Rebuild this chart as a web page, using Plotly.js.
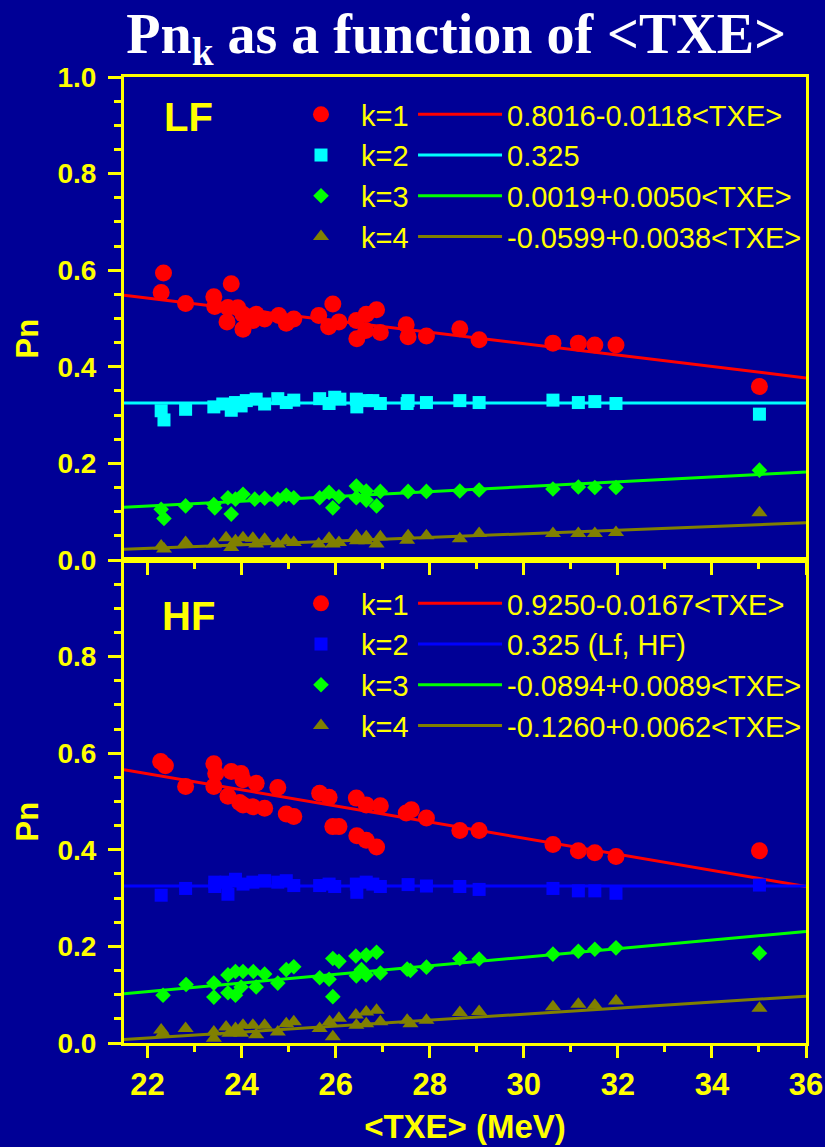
<!DOCTYPE html>
<html>
<head>
<meta charset="utf-8">
<script src="https://cdn.plot.ly/plotly-3.0.1.min.js"></script>
<style>html,body{margin:0;padding:0;background:#000096;}#chart{width:825px;height:1147px;}</style>
</head>
<body>
<div id="chart"></div>
<script>
// ---------- LF panel data ----------
const lfK1x = [22.29,22.34,22.81,23.41,23.43,23.69,23.71,23.78,23.92,24.03,24.03,24.24,24.31,24.49,24.79,24.95,25.11,25.64,25.85,25.94,26.07,26.44,26.45,26.64,26.65,26.87,26.95,27.50,27.54,27.93,28.64,29.05,30.62,31.16,31.51,31.96,35.01];
const lfK1y = [0.554,0.594,0.531,0.545,0.525,0.493,0.523,0.572,0.522,0.509,0.478,0.496,0.509,0.499,0.506,0.490,0.499,0.506,0.483,0.530,0.493,0.496,0.458,0.475,0.509,0.518,0.471,0.487,0.462,0.464,0.479,0.456,0.449,0.449,0.445,0.445,0.359];

const lfK2x = [22.29,22.35,22.81,23.41,23.60,23.78,23.87,23.99,24.10,24.31,24.49,24.77,24.95,25.11,25.66,25.86,25.98,26.09,26.44,26.45,26.65,26.79,26.95,27.52,27.54,27.93,28.64,29.05,30.62,31.16,31.51,31.96,35.01];
const lfK2y = [0.309,0.290,0.312,0.317,0.323,0.310,0.326,0.319,0.330,0.333,0.323,0.334,0.326,0.331,0.334,0.324,0.337,0.333,0.333,0.317,0.330,0.330,0.324,0.324,0.330,0.326,0.330,0.326,0.331,0.326,0.328,0.324,0.302];

const lfK3x = [22.29,22.35,22.81,23.41,23.43,23.71,23.78,23.87,24.03,24.28,24.49,24.77,24.95,25.11,25.66,25.86,25.94,26.07,26.44,26.44,26.65,26.65,26.87,26.95,27.54,27.93,28.64,29.05,30.62,31.16,31.51,31.96,35.01];
const lfK3y = [0.105,0.086,0.112,0.115,0.108,0.129,0.095,0.126,0.136,0.126,0.128,0.126,0.134,0.129,0.129,0.140,0.108,0.131,0.153,0.129,0.143,0.124,0.112,0.142,0.142,0.142,0.143,0.145,0.147,0.151,0.150,0.150,0.186];

const lfK4x = [22.29,22.35,22.81,23.41,23.67,23.78,23.87,24.03,24.24,24.31,24.49,24.77,24.95,25.11,25.64,25.86,25.94,26.07,26.44,26.45,26.65,26.65,26.87,26.95,27.52,27.54,27.93,28.64,29.05,30.62,31.16,31.51,31.96,35.01];
const lfK4y = [0.029,0.023,0.036,0.033,0.046,0.026,0.040,0.046,0.045,0.033,0.043,0.033,0.041,0.036,0.033,0.045,0.033,0.036,0.050,0.040,0.048,0.040,0.033,0.048,0.041,0.050,0.050,0.044,0.055,0.055,0.055,0.055,0.057,0.098];

// ---------- HF panel data ----------
const hfK1x = [22.28,22.38,22.81,23.41,23.45,23.41,23.78,23.99,24.03,23.71,23.96,24.03,24.24,24.49,24.31,24.77,24.95,25.11,25.66,25.86,25.94,26.07,26.44,26.45,26.65,26.65,26.87,26.95,27.50,27.61,27.93,28.64,29.05,30.62,31.16,31.51,31.96,35.01];
const hfK1y = [0.583,0.574,0.531,0.578,0.558,0.531,0.562,0.558,0.545,0.511,0.498,0.493,0.489,0.486,0.538,0.529,0.474,0.469,0.517,0.509,0.448,0.448,0.507,0.429,0.493,0.420,0.406,0.491,0.476,0.483,0.466,0.440,0.440,0.411,0.398,0.394,0.386,0.398];

const hfK2x = [22.29,22.81,23.43,23.43,23.71,23.67,23.87,24.03,24.24,24.49,24.77,24.95,25.11,25.66,25.86,25.98,26.44,26.45,26.65,26.79,26.95,27.54,27.93,28.64,29.05,30.62,31.16,31.51,31.96,35.01];
const hfK2y = [0.306,0.320,0.324,0.333,0.308,0.333,0.339,0.329,0.333,0.336,0.333,0.336,0.326,0.326,0.329,0.324,0.329,0.312,0.333,0.329,0.324,0.328,0.325,0.324,0.318,0.320,0.315,0.315,0.310,0.327];

const hfK3x = [22.33,22.82,23.41,23.41,23.71,23.71,23.87,23.87,24.03,23.99,24.25,24.31,24.49,24.77,24.95,25.11,25.66,25.86,25.94,26.07,25.94,26.43,26.65,26.87,26.44,26.55,26.65,26.95,27.52,27.59,27.93,28.64,29.05,30.62,31.16,31.51,31.96,35.01];
const hfK3y = [0.099,0.121,0.124,0.095,0.141,0.104,0.148,0.099,0.148,0.116,0.148,0.116,0.143,0.124,0.152,0.158,0.135,0.132,0.175,0.169,0.096,0.180,0.182,0.188,0.139,0.152,0.141,0.145,0.153,0.150,0.157,0.175,0.174,0.184,0.190,0.194,0.197,0.186];

const hfK4x = [22.33,22.29,22.81,23.41,23.41,23.67,23.74,23.87,24.03,23.99,24.24,24.31,24.49,24.77,24.95,25.11,25.66,25.87,25.94,26.07,26.43,26.44,26.65,26.65,26.87,26.95,27.52,27.59,27.93,28.64,29.05,30.62,31.16,31.51,31.96,35.01];
const hfK4y = [0.020,0.027,0.030,0.023,0.010,0.033,0.020,0.030,0.037,0.020,0.037,0.017,0.037,0.023,0.040,0.044,0.030,0.044,0.013,0.051,0.058,0.037,0.064,0.040,0.068,0.044,0.047,0.040,0.047,0.063,0.065,0.075,0.080,0.078,0.087,0.072];

// ---------- fit lines (end points over the axis range) ----------
const fitX = [21.5, 36];
const lfFit1 = [0.548, 0.377];
const lfFit2 = [0.325, 0.325];
const lfFit3 = [0.109, 0.182];
const lfFit4 = [0.022, 0.077];
const hfFit1 = [0.566, 0.324];
const hfFit2 = [0.325, 0.325];
const hfFit3 = [0.102, 0.231];
const hfFit4 = [0.007, 0.097];

const kLabels = ['k=1', 'k=2', 'k=3', 'k=4'];
const lfEquations = ['0.8016-0.0118&lt;TXE&gt;', '0.325', '0.0019+0.0050&lt;TXE&gt;', '-0.0599+0.0038&lt;TXE&gt;'];
const hfEquations = ['0.9250-0.0167&lt;TXE&gt;', '0.325 (Lf, HF)', '-0.0894+0.0089&lt;TXE&gt;', '-0.1260+0.0062&lt;TXE&gt;'];
const yTicksTop = [0, 0.2, 0.4, 0.6, 0.8, 1.0];
const yTicksBottom = [0, 0.2, 0.4, 0.6, 0.8];
const xTicks = [22, 24, 26, 28, 30, 32, 34, 36];

// ---------- styling ----------
const BG = '#000096';
const YEL = '#FFFF00';
const SANS = 'Liberation Sans, Arial, sans-serif';
const lfColors = ['#FF0000', '#00FFFF', '#00FF00', '#808000'];
const hfColors = ['#FF0000', '#0000FF', '#00FF00', '#808000'];
const symbols = ['circle', 'square', 'diamond', 'triangle-up'];
const msizes = [17, 13, 12, 14];

const lfPts = [[lfK1x, lfK1y], [lfK2x, lfK2y], [lfK3x, lfK3y], [lfK4x, lfK4y]];
const hfPts = [[hfK1x, hfK1y], [hfK2x, hfK2y], [hfK3x, hfK3y], [hfK4x, hfK4y]];
const lfFits = [lfFit1, lfFit2, lfFit3, lfFit4];
const hfFits = [hfFit1, hfFit2, hfFit3, hfFit4];

const traces = [];
function addPanel(pts, fits, colors, eqs, xa, ya, legM, legL) {
  for (let i = 0; i < 4; i++) {
    traces.push({
      type: 'scatter', mode: 'lines', x: fitX, y: fits[i], xaxis: xa, yaxis: ya,
      line: {color: colors[i], width: 3}, name: eqs[i], legend: legL, hoverinfo: 'skip'
    });
  }
  for (let i = 0; i < 4; i++) {
    traces.push({
      type: 'scatter', mode: 'markers', x: pts[i][0], y: pts[i][1], xaxis: xa, yaxis: ya,
      marker: {symbol: symbols[i], size: msizes[i], color: colors[i], line: {width: 0}},
      name: kLabels[i], legend: legM
    });
  }
}
addPanel(lfPts, lfFits, lfColors, lfEquations, 'x', 'y', 'legend', 'legend2');
addPanel(hfPts, hfFits, hfColors, hfEquations, 'x2', 'y2', 'legend3', 'legend4');

const tickFont = {family: SANS, size: 28, color: YEL, weight: 'bold'};
function yAxis(domain, anchor, ticks) {
  return {
    domain: domain, anchor: anchor, range: [0, 1], tickvals: ticks, tickformat: '.1f',
    ticks: 'outside', ticklen: 13, tickwidth: 3, tickcolor: YEL,
    showline: true, linecolor: YEL, linewidth: 3, mirror: true,
    showgrid: false, zeroline: false, tickfont: tickFont, ticklabelstandoff: 6,
    minor: {dtick: 0.05, ticks: 'outside', ticklen: 7, tickwidth: 3, tickcolor: YEL, showgrid: false}
  };
}
function yMirror(over, anchor) {
  return {
    overlaying: over, anchor: anchor, side: 'right', range: [0, 1], tickvals: yTicksTop,
    ticks: 'inside', ticklen: 10, tickwidth: 3, tickcolor: YEL, showticklabels: false,
    showline: false, showgrid: false, zeroline: false,
    minor: {dtick: 0.05, ticks: 'inside', ticklen: 7, tickwidth: 3, tickcolor: YEL, showgrid: false}
  };
}
function xAxis(anchor, labels) {
  return {
    anchor: anchor, range: [21.5, 36], tickvals: xTicks, ticks: 'outside', ticklen: 12,
    tickwidth: 3, tickcolor: YEL, showline: true, linecolor: YEL, linewidth: 3, mirror: true,
    showgrid: false, zeroline: false, showticklabels: labels,
    tickfont: {family: SANS, size: 31, color: YEL, weight: 'bold'},
    minor: {dtick: 1, ticks: 'outside', ticklen: 6, tickwidth: 3, tickcolor: YEL, showgrid: false}
  };
}
function xMirror(over, anchor) {
  return {
    overlaying: over, anchor: anchor, side: 'top', range: [21.5, 36], tickvals: xTicks,
    ticks: 'inside', ticklen: 10, tickwidth: 3, tickcolor: YEL, showticklabels: false,
    showline: false, showgrid: false, zeroline: false,
    minor: {dtick: 1, ticks: 'inside', ticklen: 6, tickwidth: 3, tickcolor: YEL, showgrid: false}
  };
}

const legFont = {family: SANS, size: 29, color: YEL};
function leg(x, y, iw) {
  return {x: x, y: y, xanchor: 'left', yanchor: 'top', bgcolor: 'rgba(0,0,0,0)',
          borderwidth: 0, font: legFont, itemwidth: iw, tracegroupgap: 0, traceorder: 'normal'};
}

const xb = xAxis('y2', true);
xb.title = {text: '&lt;TXE&gt; (MeV)', font: {family: SANS, size: 33, color: YEL, weight: 'bold'}, standoff: 14};

const layout = {
  width: 825, height: 1147,
  paper_bgcolor: BG, plot_bgcolor: BG,
  margin: {l: 124, r: 19, t: 77, b: 104},
  showlegend: true,
  title: {
    text: 'Pn<sub>k</sub> as a function of &lt;TXE&gt;',
    font: {family: 'Liberation Serif, Times New Roman, serif', size: 56, color: '#FFFFFF', weight: 'bold'},
    x: 0.553, xanchor: 'center', y: 0.971, yanchor: 'middle'
  },
  xaxis: xAxis('y', false),
  yaxis: yAxis([0.5, 1], 'x', yTicksTop),
  xaxis2: xb,
  yaxis2: yAxis([0, 0.5], 'x2', yTicksBottom),
  xaxis3: xMirror('x', 'y'),
  yaxis3: yMirror('y', 'x'),
  xaxis4: xMirror('x2', 'y2'),
  yaxis4: yMirror('y2', 'x2'),
  legend: leg(0.2302, 0.9876, 70),
  legend2: leg(0.4238, 0.9876, 84),
  legend3: leg(0.2302, 0.4814, 70),
  legend4: leg(0.4238, 0.4814, 84),
  annotations: [
    {text: 'LF', xref: 'paper', yref: 'paper', x: 0.0946, y: 0.9586, showarrow: false,
     xanchor: 'center', yanchor: 'middle', font: {family: SANS, size: 40, color: YEL, weight: 'bold'}},
    {text: 'HF', xref: 'paper', yref: 'paper', x: 0.0946, y: 0.442, showarrow: false,
     xanchor: 'center', yanchor: 'middle', font: {family: SANS, size: 40, color: YEL, weight: 'bold'}},
    {text: 'Pn', xref: 'paper', yref: 'paper', x: -0.1415, y: 0.7298, showarrow: false, textangle: -90,
     xanchor: 'center', yanchor: 'middle', font: {family: SANS, size: 31, color: YEL, weight: 'bold'}},
    {text: 'Pn', xref: 'paper', yref: 'paper', x: -0.1415, y: 0.2298, showarrow: false, textangle: -90,
     xanchor: 'center', yanchor: 'middle', font: {family: SANS, size: 31, color: YEL, weight: 'bold'}}
  ]
};

Plotly.newPlot('chart', traces, layout, {displayModeBar: false, staticPlot: true});
</script>
</body>
</html>
